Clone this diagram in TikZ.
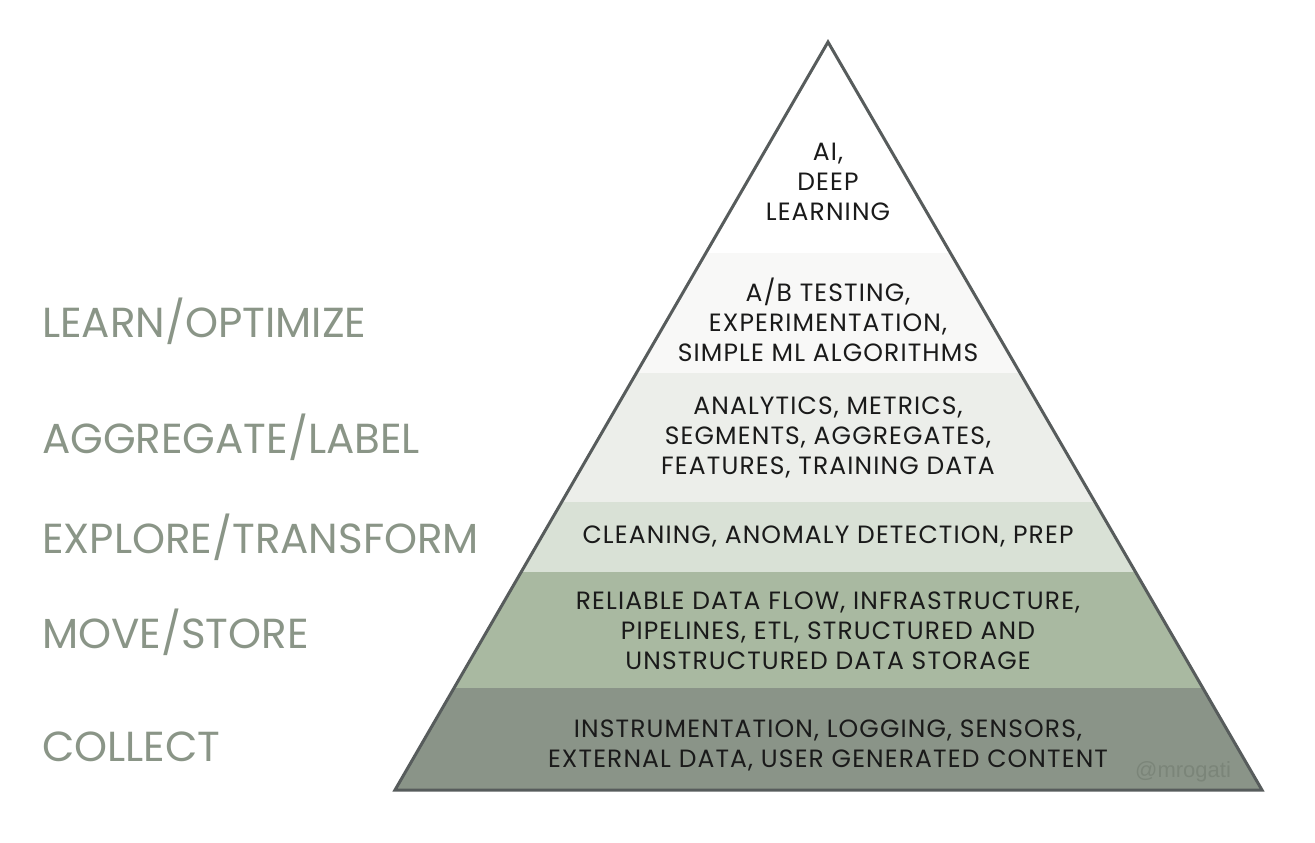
\documentclass[tikz,border=0pt]{standalone}
\usepackage{fontspec}
\setmainfont{Poppins}
\newfontfamily\innerfont[LetterSpace=4.5]{Poppins}
\newfontfamily\creditfont{Liberation Sans}
\definecolor{Lone}{HTML}{FFFFFF}
\definecolor{Ltwo}{HTML}{F8F8F7}
\definecolor{Lthree}{HTML}{ECEEEA}
\definecolor{Lfour}{HTML}{D9E1D6}
\definecolor{Lfive}{HTML}{A9B9A1}
\definecolor{Lsix}{HTML}{8A9488}
\definecolor{edgec}{HTML}{575C5C}
\definecolor{sidec}{HTML}{8A9587}
\definecolor{inkc}{HTML}{1A1A1A}
\definecolor{creditc}{HTML}{7B8579}
\begin{document}
\begin{tikzpicture}[x=1pt,y=-1pt,
  inner/.style={inner sep=0pt, align=center, text=inkc, font=\innerfont\fontsize{25}{30}\selectfont},
  sidelabel/.style={inner sep=0pt, anchor=base west, text=sidec, font=\fontsize{42}{46}\selectfont}]
\useasboundingbox (0,0) rectangle (1315,843);
\coordinate (apex) at (828,42);
\coordinate (br) at (1262,790);
\coordinate (bl) at (395,790);
\begin{scope}
  \clip (apex) -- (br) -- (bl) -- cycle;
  \fill[Lone]   (380,30)  rectangle (1280,253);
  \fill[Ltwo]   (380,253) rectangle (1280,373);
  \fill[Lthree] (380,373) rectangle (1280,502);
  \fill[Lfour]  (380,502) rectangle (1280,572);
  \fill[Lfive]  (380,572) rectangle (1280,688);
  \fill[Lsix]   (380,688) rectangle (1280,800);
\end{scope}
\draw[edgec, line width=3pt, line join=miter] (apex) -- (br) -- (bl) -- cycle;

\node[inner] (t1) at (828,182) {AI,\\DEEP\\LEARNING};
\node[inner] (t2) at (828,320) {A/B TESTING,\\EXPERIMENTATION,\\SIMPLE ML ALGORITHMS};
\node[inner] (t3) at (828,437) {ANALYTICS, METRICS,\\SEGMENTS, AGGREGATES,\\FEATURES, TRAINING DATA};
\node[inner] (t4) at (828,536) {CLEANING, ANOMALY DETECTION, PREP};
\node[inner] (t5) at (828,631) {RELIABLE DATA FLOW, INFRASTRUCTURE,\\PIPELINES, ETL, STRUCTURED AND\\UNSTRUCTURED DATA STORAGE};
\node[inner] (t6) at (828,745) {INSTRUMENTATION, LOGGING, SENSORS,\\EXTERNAL DATA, USER GENERATED CONTENT};

\node[sidelabel] (s1) at (42,337) {LEARN/OPTIMIZE};
\node[sidelabel] (s2) at (42,453) {AGGREGATE/LABEL};
\node[sidelabel] (s3) at (42,553) {EXPLORE/TRANSFORM};
\node[sidelabel] (s4) at (42,648) {MOVE/STORE};
\node[sidelabel] (s5) at (42,761) {COLLECT};

\node[inner sep=0pt, anchor=base west, text=creditc, font=\creditfont\fontsize{22}{24}\selectfont] (cr) at (1135,777) {@mrogati};
\end{tikzpicture}
\end{document}
